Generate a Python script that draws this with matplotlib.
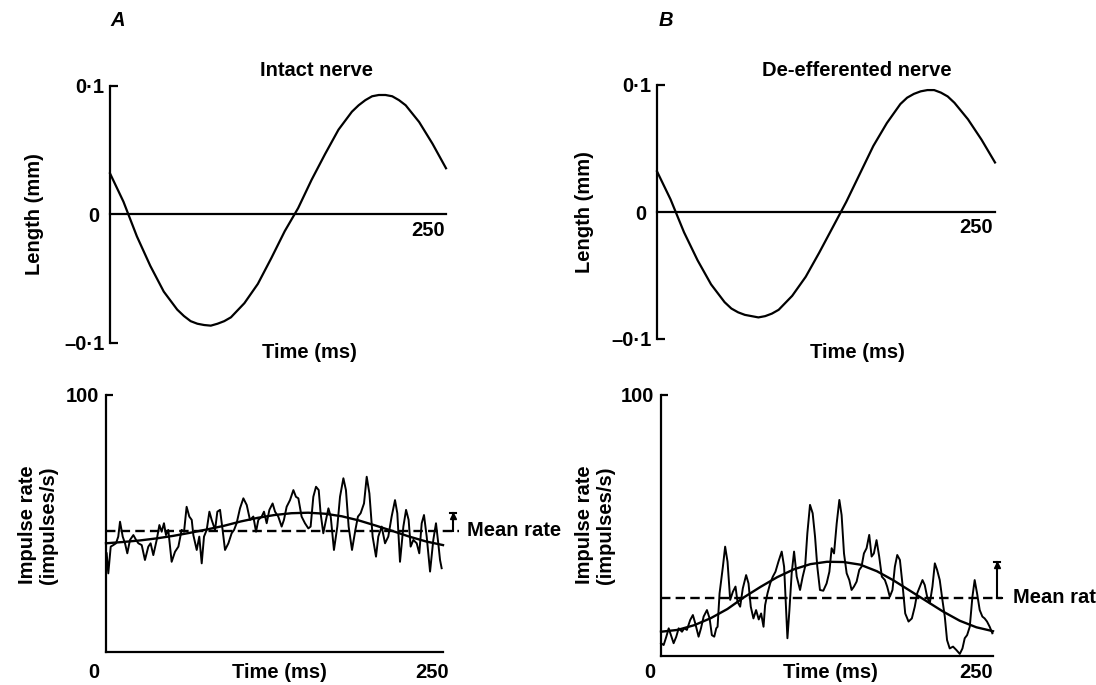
import numpy as np
import matplotlib.pyplot as plt

plt.rcParams['font.family'] = ['Liberation Sans', 'DejaVu Sans']
plt.rcParams['font.size'] = 14.5
plt.rcParams['font.weight'] = 'bold'

# length records (mm)
t_len = [0, 10, 20, 30, 40, 50, 55, 60, 65, 70, 75, 80, 85, 90, 100, 110, 120,
         130, 140, 150, 160, 170, 180, 185, 190, 195, 200, 205, 210, 215, 220,
         230, 240, 250]
len_a = [0.032, 0.010, -0.017, -0.040, -0.060, -0.074, -0.079, -0.083, -0.085,
         -0.086, -0.0865, -0.085, -0.083, -0.080, -0.069, -0.054, -0.034, -0.013,
         0.005, 0.027, 0.047, 0.066, 0.080, 0.085, 0.089, 0.092, 0.093, 0.093,
         0.092, 0.089, 0.085, 0.072, 0.055, 0.036]
len_b = [0.032, 0.010, -0.016, -0.038, -0.057, -0.071, -0.076, -0.079, -0.081,
         -0.082, -0.083, -0.082, -0.080, -0.077, -0.066, -0.051, -0.032, -0.012,
         0.008, 0.030, 0.052, 0.070, 0.085, 0.090, 0.093, 0.095, 0.096, 0.096,
         0.094, 0.091, 0.086, 0.073, 0.057, 0.039]

# instantaneous impulse rate, intact nerve
t_raw_a = [0.5, 1.7, 3.5, 5.4, 7.4, 9.1, 10.4, 12.4, 14.1, 15.8,
           17.8, 20.3, 22.3, 24.0, 26.5, 28.9, 31.4, 33.1, 35.1, 37.6,
           39.6, 41.3, 43.0, 44.5, 46.2, 48.7, 51.2, 53.7, 56.1, 57.9,
           59.8, 61.8, 63.6, 64.8, 67.3, 69.2, 71.0, 72.7, 74.7, 76.7,
           78.4, 80.9, 82.6, 84.6, 86.5, 88.3, 90.8, 93.2, 95.0, 96.9,
           99.4, 101.9, 104.4, 106.8, 109.3, 111.3, 113.0, 115.5, 117.2, 119.2,
           121.2, 123.6, 125.4, 127.8, 130.3, 132.0, 134.0, 136.5, 139.0, 140.9,
           142.7, 145.1, 147.6, 150.1, 151.8, 153.8, 155.8, 157.8, 159.2, 161.2,
           163.2, 165.0, 166.7, 169.1, 171.6, 173.6, 176.1, 178.0, 180.0, 182.5,
           185.0, 186.9, 188.9, 191.4, 193.4, 195.4, 197.8, 200.3, 202.0, 204.5,
           207.0, 209.4, 211.9, 214.4, 216.1, 218.1, 220.6, 222.6, 224.5, 226.0,
           228.0, 230.5, 232.4, 234.2, 235.9, 237.9, 240.4, 242.8, 244.8, 246.5,
           247.8, 249.0]
rate_a = [38.4, 30.6, 41.0, 41.6, 42.3, 44.9, 50.7, 44.9, 42.3, 38.4,
          43.6, 45.5, 43.6, 42.3, 41.6, 35.8, 41.0, 42.3, 37.7, 43.6,
          49.4, 46.8, 50.1, 45.5, 47.5, 35.1, 39.0, 41.0, 47.5, 46.8,
          56.5, 52.7, 51.4, 45.5, 39.7, 44.9, 34.5, 44.9, 47.5, 54.6,
          51.4, 47.5, 54.6, 55.3, 47.5, 39.7, 42.3, 46.2, 47.5, 50.1,
          55.9, 59.8, 57.2, 51.4, 52.7, 46.8, 51.4, 52.7, 54.6, 50.1,
          55.3, 57.8, 54.6, 52.7, 48.8, 51.4, 56.5, 59.1, 63.0, 60.4,
          59.8, 52.7, 50.1, 48.1, 48.8, 60.4, 64.3, 63.0, 54.0, 46.2,
          51.4, 55.9, 52.7, 39.7, 48.8, 60.4, 67.6, 63.0, 48.8, 39.7,
          47.5, 52.7, 54.0, 57.8, 68.2, 61.7, 44.9, 37.1, 44.9, 48.8,
          42.3, 44.9, 52.7, 59.1, 54.0, 35.1, 48.8, 55.3, 51.4, 41.0,
          43.6, 42.3, 38.4, 50.1, 53.3, 44.9, 31.3, 43.6, 50.1, 42.3,
          35.8, 32.6]

# instantaneous impulse rate, de-efferented nerve
t_raw_b = [0.0, 2.0, 4.0, 5.8, 7.5, 9.5, 11.5, 13.3, 15.8, 17.5,
           19.5, 22.0, 24.0, 25.8, 28.3, 30.1, 32.1, 34.6, 36.6, 38.3,
           40.1, 41.6, 42.6, 44.1, 46.6, 48.3, 50.1, 52.1, 54.1, 56.1,
           57.6, 59.6, 61.6, 64.1, 65.9, 67.6, 69.6, 71.6, 73.6, 75.4,
           77.2, 78.4, 80.2, 82.2, 84.2, 86.2, 88.4, 90.9, 92.7, 94.2,
           95.2, 96.7, 98.4, 100.2, 102.2, 104.7, 106.7, 108.5, 110.2, 112.2,
           114.2, 116.0, 117.7, 119.7, 122.2, 124.7, 126.8, 128.5, 130.3, 132.3,
           134.3, 136.0, 137.8, 139.8, 141.8, 143.5, 145.3, 147.3, 149.3, 151.0,
           152.8, 154.8, 156.8, 158.6, 160.3, 162.3, 164.3, 166.3, 168.6, 170.3,
           172.3, 174.3, 176.1, 177.9, 179.9, 181.9, 183.9, 186.4, 188.9, 191.1,
           192.9, 194.9, 196.9, 198.6, 200.4, 202.4, 204.4, 206.2, 207.9, 209.9,
           211.9, 213.7, 215.4, 217.4, 219.9, 222.4, 225.0, 227.0, 228.7, 230.5,
           232.5, 234.5, 236.2, 238.0, 240.0, 242.0, 243.7, 245.5, 247.5, 249.5]
rate_b = [4.9, 4.2, 7.4, 10.6, 8.0, 4.9, 7.4, 10.6, 9.3, 10.6,
          10.0, 13.8, 15.7, 12.5, 7.4, 10.6, 15.1, 17.6, 14.4, 8.0,
          7.4, 10.6, 11.2, 24.0, 34.2, 41.9, 36.1, 21.5, 24.6, 26.6,
          20.8, 18.9, 25.9, 31.0, 27.8, 18.9, 14.4, 17.6, 14.0, 16.3,
          11.2, 19.5, 24.0, 27.8, 30.4, 32.3, 36.1, 40.0, 34.2, 17.6,
          6.8, 17.6, 31.7, 40.0, 30.4, 25.3, 30.4, 34.2, 47.0, 57.9,
          54.7, 45.7, 34.2, 25.3, 25.0, 27.8, 32.3, 41.3, 39.3, 50.8,
          59.8, 54.0, 39.3, 31.7, 29.1, 25.3, 26.6, 28.5, 33.0, 34.2,
          39.3, 41.3, 46.4, 38.1, 39.3, 44.4, 38.1, 30.4, 29.1, 26.6,
          22.7, 25.3, 34.2, 38.7, 36.8, 27.2, 16.3, 13.2, 14.4, 18.9,
          24.0, 26.6, 29.1, 27.2, 22.7, 20.2, 26.6, 35.5, 33.0, 29.1,
          21.5, 15.1, 6.1, 2.9, 3.6, 2.3, 0.8, 2.9, 6.8, 8.0,
          11.2, 22.7, 29.1, 24.0, 17.6, 15.1, 14.4, 13.2, 11.2, 8.7]

# fitted sinusoids and mean rates
t_fit = [0, 12.5, 25, 37.5, 50, 62.5, 75, 87.5, 100, 112.5, 125, 137.5, 150,
         162.5, 175, 187.5, 200, 212.5, 225, 237.5, 250]
fit_a = [42.3, 42.8, 43.4, 44.2, 45.2, 46.4, 47.7, 49.1, 50.8, 52.2, 53.3,
         54.0, 54.2, 53.8, 52.8, 51.2, 49.2, 47.1, 44.9, 43.0, 41.6]
fit_b = [9.3, 10.0, 11.8, 14.5, 18.0, 22.5, 26.5, 30.2, 33.2, 35.2, 36.1,
         36.0, 35.0, 32.5, 29.0, 25.0, 21.0, 17.0, 13.5, 11.0, 9.5]
mean_a = 47.2
mean_b = 22.3

W, H = 1096, 685
fig = plt.figure(figsize=(W / 100, H / 100), dpi=100)


def box(x0, x1, ytop, ybot):
    # pixel box -> figure fraction
    return [x0 / W, 1 - ybot / H, (x1 - x0) / W, (ybot - ytop) / H]


def ftext(x, y, s, **kw):
    fig.text(x / W, 1 - y / H, s, ha='center', va='center', **kw)


def length_panel(rect, y):
    ax = fig.add_axes(rect)
    ax.plot(t_len, y, color='k', lw=1.6, clip_on=False)
    ax.plot([0, 250], [0, 0], color='k', lw=1.6, clip_on=False)
    ax.set_xlim(0, 250)
    ax.set_ylim(-0.1, 0.1)
    for s in ['top', 'right', 'bottom']:
        ax.spines[s].set_visible(False)
    ax.spines['left'].set_linewidth(1.6)
    ax.set_xticks([])
    ax.set_yticks([-0.1, 0.1], ['–0·1', '0·1'])
    ax.set_yticks([0], ['0'], minor=True)
    ax.tick_params(axis='y', which='major', direction='in', length=6, width=1.6, pad=4)
    ax.tick_params(axis='y', which='minor', length=0, pad=8)
    ax.patch.set_alpha(0)
    return ax


def rate_panel(rect, t_raw, raw, fit, mean, bar_x, text_x, foot):
    ax = fig.add_axes(rect)
    ax.plot(t_raw, raw, color='k', lw=1.4, clip_on=False)
    ax.plot(t_fit, fit, color='k', lw=1.7, clip_on=False)
    ax.plot([0, bar_x + 4], [mean, mean], color='k', lw=1.7,
            ls=(0, (4, 2.2)), clip_on=False)
    top = max(fit)
    ax.plot([bar_x, bar_x], [mean, top], color='k', lw=1.5, clip_on=False)
    ax.plot([bar_x - 2.5, bar_x + 2.5], [top, top], color='k', lw=1.5, clip_on=False)
    ax.plot(bar_x, top - 1.3, marker='^', color='k', ms=5, clip_on=False)
    if foot:
        ax.plot([bar_x, bar_x + 3.5], [mean, mean], color='k', lw=1.5, clip_on=False)
    ax.text(text_x, mean, 'Mean rate', va='center', ha='left', clip_on=False)
    ax.set_xlim(0, 250)
    ax.set_ylim(0, 100)
    for s in ['top', 'right']:
        ax.spines[s].set_visible(False)
    for s in ['left', 'bottom']:
        ax.spines[s].set_linewidth(1.6)
    ax.set_xticks([])
    ax.set_yticks([100], ['100'])
    ax.tick_params(axis='y', direction='in', length=5, width=1.6, pad=5)
    ax.patch.set_alpha(0)
    return ax


# panel A
length_panel(box(110, 446, 86, 343), len_a)
rate_panel(box(106, 443, 395, 652), t_raw_a, rate_a, fit_a, mean_a, 257.5, 267.5, False)
ftext(118, 20, 'A', style='italic')
ftext(316, 70, 'Intact nerve')
ftext(35, 214, 'Length (mm)', rotation=90)
ftext(428, 230, '250')
ftext(309, 352, 'Time (ms)')
ftext(38, 525, 'Impulse rate\n(impulses/s)', rotation=90, linespacing=1.1)
ftext(94, 673, '0')
ftext(279, 673, 'Time (ms)')
ftext(432, 673, '250')

# panel B
length_panel(box(657, 995, 85, 339), len_b)
rate_panel(box(661, 993, 395, 656), t_raw_b, rate_b, fit_b, mean_b, 253, 265, True)
ftext(666, 20, 'B', style='italic')
ftext(857, 70, 'De-efferented nerve')
ftext(584, 212, 'Length (mm)', rotation=90)
ftext(976, 228, '250')
ftext(857, 352, 'Time (ms)')
ftext(595, 525, 'Impulse rate\n(impulses/s)', rotation=90, linespacing=1.1)
ftext(650, 673, '0')
ftext(830, 673, 'Time (ms)')
ftext(976, 673, '250')

fig.savefig('out.png', dpi=100)
